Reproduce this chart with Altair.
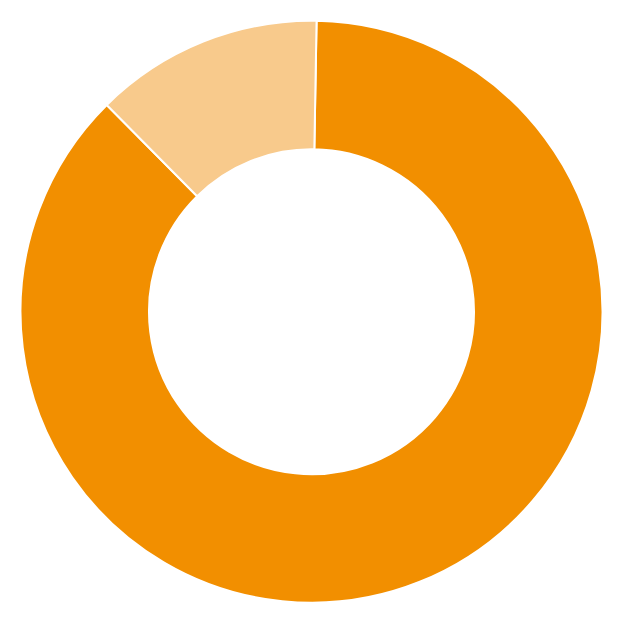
import math
import altair as alt
import pandas as pd

categories = ["A", "B"]
values = [87.3, 12.7]
colors = ["#F28F00", "#F8CA8C"]

df = pd.DataFrame({"category": categories, "value": values, "order": [0, 1]})

start = math.radians(1.0)

chart = (
    alt.Chart(df)
    .mark_arc(radius=291, innerRadius=162.5, stroke="white", strokeWidth=2)
    .encode(
        theta=alt.Theta(
            "value:Q",
            stack=True,
            scale=alt.Scale(range=[start, start + 2 * math.pi]),
        ),
        color=alt.Color("category:N", scale=alt.Scale(domain=categories, range=colors), legend=None),
        order=alt.Order("order:Q"),
    )
    .properties(
        width=600,
        height=600,
        autosize="none",
        padding={"left": 3.5, "top": 3.7, "right": 0, "bottom": 0},
    )
    .configure_view(stroke=None)
)

chart.save("out.html", embed_options={"renderer": "svg", "actions": False})
